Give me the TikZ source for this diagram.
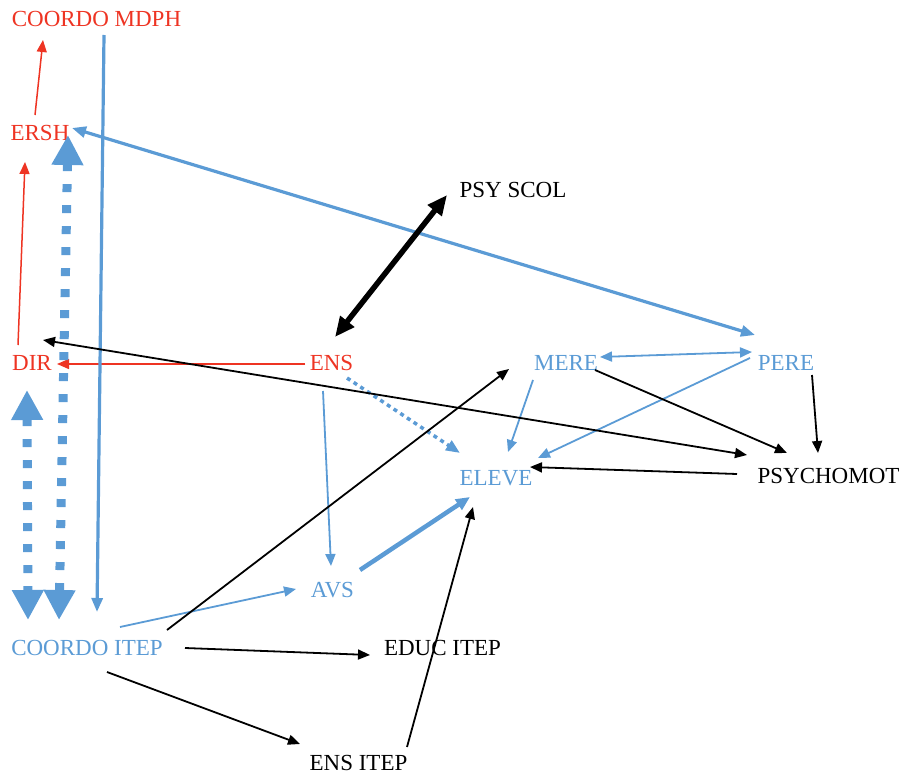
\documentclass[tikz,border=0pt]{standalone}
\usepackage{fontspec}
\setmainfont{Liberation Serif}
\usetikzlibrary{arrows.meta,calc}
\definecolor{rd}{RGB}{238,52,35}
\definecolor{bl}{RGB}{91,155,213}
\begin{document}
\begin{tikzpicture}[x=1pt,y=-1pt,
  lbl/.style={inner sep=0pt,font=\fontsize{23}{27}\selectfont},
  rl/.style={lbl,text=rd},
  bll/.style={lbl,text=bl},
  kl/.style={lbl,text=black},
  tip/.style={-{Triangle[length=12pt,width=10pt]}},
  dtip/.style={{Triangle[length=12pt,width=10pt]}-{Triangle[length=12pt,width=10pt]}},
  redarr/.style={tip,draw=rd,fill=rd,line width=1.5pt},
  blkarr/.style={tip,draw=black,line width=1.8pt},
  blkdbl/.style={dtip,draw=black,line width=1.8pt},
  bluarr/.style={tip,draw=bl,line width=1.8pt},
  bludbl/.style={dtip,draw=bl,line width=1.8pt},
  bluthick/.style={-{Triangle[length=14pt,width=11pt]},draw=bl,line width=3.2pt},
  bigdash/.style={{Triangle[length=30pt,width=30pt]}-{Triangle[length=30pt,width=30pt]},draw=bl,line width=9pt,dash pattern=on 8pt off 13pt},
]
\useasboundingbox (0,0) rectangle (905,778);

% nodes
\node[rl]  (mdph)  at (96.5,19) {COORDO MDPH};
\node[rl]  (ersh)  at (40,133) {ERSH};
\node[rl]  (dir)   at (32,363) {DIR};
\node[rl]  (ens)   at (331.5,363) {ENS};
\node[bll] (mere)  at (566,363) {MERE};
\node[bll] (pere)  at (786,363) {PERE};
\node[kl]  (psy)   at (513,190) {PSY SCOL};
\node[bll] (eleve) at (496,478) {ELEVE};
\node[kl]  (psym)  at (828.5,476) {PSYCHOMOT};
\node[bll] (avs)   at (332.5,590) {AVS};
\node[bll] (citep) at (87,648) {COORDO ITEP};
\node[kl]  (educ)  at (442.5,648) {EDUC ITEP};
\node[kl]  (ensi)  at (358.5,763) {ENS ITEP};

% red arrows
\draw[redarr] ($(ersh)+(-5,-18)$) -- ($(mdph)+(-53.5,21)$);
\draw[redarr] ($(dir)+(-14,-18)$) -- ($(ersh)+(-15,29)$);
\draw[redarr] ($(ens)+(-26.5,1)$) -- ($(dir)+(25,1)$);

% big dashed double arrows
\draw[bigdash] ($(dir)+(-5,27)$) -- ($(citep)+(-59,-28)$);
\draw[bigdash] ($(ersh)+(28,2)$) -- ($(citep)+(-28,-28)$);

% blue arrows
\draw[bluthick] ($(mdph)+(7.5,16)$) -- ($(citep)+(10,-36)$);
\draw[{Triangle[length=14pt,width=11pt]}-{Triangle[length=14pt,width=11pt]},draw=bl,line width=3.2pt]
  ($(ersh)+(32,-5)$) -- ($(pere)+(-31,-28)$);
\draw[bludbl] ($(mere)+(34,-6)$) -- ($(pere)+(-34,-11)$);
\draw[bluarr] ($(mere)+(-33,17)$) -- ($(eleve)+(12,-26)$);
\draw[bluarr] ($(pere)+(-36,-5)$) -- ($(eleve)+(42,-20)$);
\draw[-{Triangle[length=14pt,width=11pt]},draw=bl,line width=3.5pt,dash pattern=on 4pt off 4pt]
  ($(ens)+(15.5,15)$) -- ($(eleve)+(-36,-25)$);
\draw[bluarr] ($(ens)+(-8.5,28)$) -- ($(avs)+(-1.5,-24)$);
\draw[-{Triangle[length=14pt,width=12pt]},draw=bl,line width=4.5pt]
  ($(avs)+(27.5,-20)$) -- ($(eleve)+(-26,19)$);
\draw[bluarr] ($(citep)+(33,-21)$) -- ($(avs)+(-36.5,-1)$);

% black arrows
\draw[{Triangle[length=20pt,width=17pt]}-{Triangle[length=20pt,width=17pt]},draw=black,line width=5.5pt]
  ($(psy)+(-66,5)$) -- ($(ens)+(3.5,-26)$);
\draw[blkdbl] ($(dir)+(11,-23)$) -- ($(psym)+(-81.5,-21)$);
\draw[blkarr] ($(mere)+(29,7)$) -- ($(psym)+(-41.5,-23)$);
\draw[blkarr] ($(pere)+(26,12)$) -- ($(psym)+(-10.5,-23)$);
\draw[blkarr] ($(psym)+(-91.5,-2)$) -- ($(eleve)+(34,-11)$);
\draw[blkarr] ($(ensi)+(48.5,-16)$) -- ($(eleve)+(-23,29)$);
\draw[blkarr] ($(citep)+(80,-18)$) -- ($(mere)+(-57,6)$);
\draw[blkarr] ($(citep)+(98,0)$) -- ($(educ)+(-72.5,7)$);
\draw[blkarr] ($(citep)+(20,24)$) -- ($(ensi)+(-58.5,-19)$);
\end{tikzpicture}
\end{document}
